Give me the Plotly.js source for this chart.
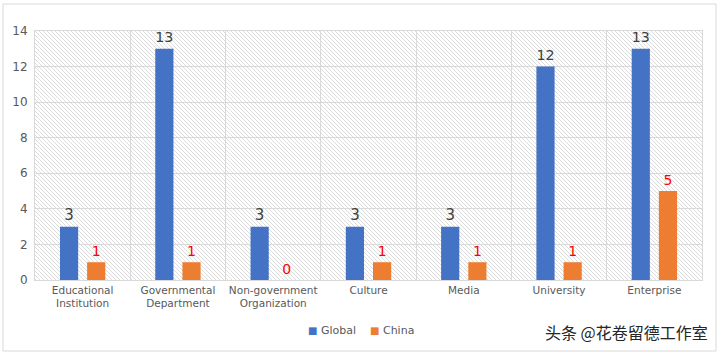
<!DOCTYPE html>
<html>
<head>
<meta charset="utf-8">
<script src="https://cdn.plot.ly/plotly-3.0.1.min.js"></script>
<style>
html,body{margin:0;padding:0;background:#fff;}
#chart{width:720px;height:355px;}
</style>
</head>
<body>
<div id="chart"></div>
<script>
const categories = ['Educational<br>Institution', 'Governmental<br>Department', 'Non-government<br>Organization', 'Culture', 'Media', 'University', 'Enterprise'];
const globalValues = [3, 13, 3, 3, 3, 12, 13];
const chinaValues = [1, 1, 0, 1, 1, 1, 5];
const yTicks = [0, 2, 4, 6, 8, 10, 12, 14];
const seriesNames = ['Global', 'China'];
const seriesColors = ['#4472C4', '#ED7D31'];

const W = 720, H = 355;
const margin = {l: 35, r: 18, t: 31, b: 75};
const pw = W - margin.l - margin.r, ph = H - margin.t - margin.b;

// hatch pattern for plot background
const svg = `<svg xmlns="http://www.w3.org/2000/svg" width="${pw}" height="${ph}">
<defs><pattern id="p" width="4" height="4" patternUnits="userSpaceOnUse">
<path d="M-1,-1 L5,5 M-1,3 L1,5 M3,-1 L5,1" stroke="#cccccc" stroke-width="0.7"/></pattern></defs>
<rect width="100%" height="100%" fill="#ffffff"/><rect width="100%" height="100%" fill="url(#p)"/></svg>`;
const hatch = 'data:image/svg+xml;charset=utf-8,' + encodeURIComponent(svg);

const fontFam = 'DejaVu Sans, Century Gothic, sans-serif';

const traces = [
  {
    type: 'bar', name: seriesNames[0], x: categories, y: globalValues,
    marker: {color: seriesColors[0]},
    text: globalValues.map(String), textposition: 'outside',
    textfont: {family: fontFam, size: 15, color: '#404040'},
    cliponaxis: false
  },
  {
    type: 'bar', name: seriesNames[1], x: categories, y: chinaValues,
    marker: {color: seriesColors[1]},
    text: chinaValues.map(String), textposition: 'outside',
    textfont: {family: fontFam, size: 14, color: '#FF0000'},
    cliponaxis: false
  }
];

function px2x(p){ return (p - margin.l) / pw; }
function py2y(p){ return (H - margin.b - p) / ph; }

const legendAnn = [
  {name: seriesNames[0], color: seriesColors[0], x: 306},
  {name: seriesNames[1], color: seriesColors[1], x: 368}
].map(d => ({
  text: `<span style="color:${d.color};font-size:10px">■</span> ${d.name}`,
  xref: 'paper', yref: 'paper', x: px2x(d.x), xanchor: 'left',
  y: py2y(331), yanchor: 'middle', showarrow: false,
  font: {family: fontFam, size: 11, color: '#595959'}
}));

const layout = {
  width: W, height: H,
  margin: margin,
  paper_bgcolor: '#ffffff',
  plot_bgcolor: 'rgba(0,0,0,0)',
  barmode: 'group',
  bargap: 0.43,
  bargroupgap: 0.33,
  font: {family: fontFam, color: '#595959'},
  showlegend: false,
  xaxis: {
    type: 'category',
    tickson: 'boundaries',
    showgrid: true, gridcolor: '#d9d9d9', gridwidth: 1,
    showline: true, linecolor: '#d9d9d9', mirror: true,
    ticks: '', tickangle: 0,
    tickfont: {family: fontFam, size: 10.5, color: '#595959'},
    fixedrange: true
  },
  yaxis: {
    range: [0, 14], tickvals: yTicks, ticktext: yTicks.map(String),
    showgrid: true, gridcolor: '#d9d9d9', gridwidth: 1,
    showline: true, linecolor: '#d9d9d9', mirror: true,
    zeroline: false, ticks: '',
    tickfont: {family: fontFam, size: 12, color: '#595959'},
    ticklabelstandoff: 4,
    fixedrange: true
  },
  images: [{
    source: hatch, xref: 'paper', yref: 'paper', x: 0, y: 1, sizex: 1, sizey: 1,
    sizing: 'stretch', xanchor: 'left', yanchor: 'top', layer: 'below'
  }],
  shapes: [{
    type: 'rect', xref: 'paper', yref: 'paper',
    x0: px2x(3), x1: px2x(716), y0: py2y(351), y1: py2y(4),
    line: {color: '#d9d9d9', width: 1}, fillcolor: 'rgba(0,0,0,0)', layer: 'below'
  }],
  annotations: legendAnn.concat([{
    text: '头条 @花卷留德工作室', xref: 'paper', yref: 'paper',
    x: px2x(710), xanchor: 'right', y: py2y(332), yanchor: 'middle',
    showarrow: false,
    font: {family: 'Noto Sans CJK SC', size: 16, color: '#262626'}
  }])
};

Plotly.newPlot('chart', traces, layout, {staticPlot: true, displayModeBar: false});
</script>
</body>
</html>
